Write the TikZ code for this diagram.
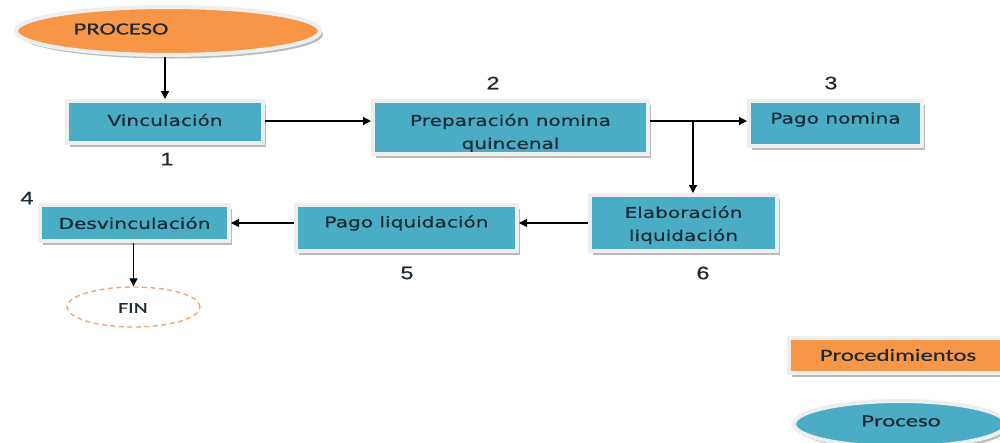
\documentclass[tikz,border=0pt]{standalone}
\usepackage{fontspec}
\usetikzlibrary{shapes.geometric,arrows.meta,shadows,calc}
\newfontfamily\boxfont[FakeStretch=1.34,FakeBold=0.4]{DejaVu Sans}
\newfontfamily\calfont[FakeStretch=1.45,FakeBold=0.5]{Carlito}
\newfontfamily\numfont[FakeStretch=1.3,FakeBold=0.6]{Liberation Sans}
\definecolor{boxblue}{HTML}{4BACC6}
\definecolor{procorange}{HTML}{F79646}
\definecolor{finorange}{HTML}{F8A86E}
\definecolor{framegray}{HTML}{EEEEEE}
\definecolor{txtdark}{HTML}{1B2A33}
\begin{document}
\begin{tikzpicture}[x=1pt,y=-1pt,
  shade/.style={drop shadow={shadow xshift=3pt,shadow yshift=-3.5pt,fill=black!45,opacity=0.6}},
  stepbox/.style={rectangle,fill=boxblue,draw=framegray,line width=4pt,inner sep=0pt,shade},
  boxtext/.style={font=\boxfont\fontsize{15}{23}\selectfont,text=txtdark,align=center,inner sep=0pt},
  caltext/.style={font=\calfont\fontsize{17}{20}\selectfont,text=txtdark,inner sep=0pt},
  numtext/.style={font=\numfont\fontsize{18}{20}\selectfont,text=txtdark,inner sep=0pt},
  arr/.style={-{Triangle[width=8pt,length=8pt]},line width=1.2pt,black}]
\useasboundingbox (0,0) rectangle (1000,442);
\clip (0,0) rectangle (1000,442);
% start ellipse
\node[ellipse,fill=procorange,draw=framegray,line width=4pt,inner sep=0pt,minimum width=304pt,minimum height=48pt,shade] (proc) at (168,31) {};
\node[caltext] (proct) at (121,29) {PROCESO};
% boxes
\node[stepbox,minimum width=196pt,minimum height=42pt,label={[boxtext,yshift=2pt]center:Vinculación}] (vinc) at (165,122) {};
\node[stepbox,minimum width=275pt,minimum height=53pt] (prep) at (510.5,127.5) {};
\node[boxtext,yshift=-5.5pt] (prept) at (prep.center) {Preparación nomina\\quincenal};
\draw[draw=framegray,line width=4pt] ($(prep.south west)+(2pt,2pt)$) -- ($(prep.south east)+(-2pt,2pt)$);
\node[stepbox,minimum width=173pt,minimum height=45pt,label={[boxtext,yshift=4pt]center:Pago nomina}] (pnom) at (835.5,123.5) {};
\node[stepbox,minimum width=189pt,minimum height=36pt,label={[boxtext]center:Desvinculación}] (desv) at (134.5,223) {};
\node[stepbox,minimum width=221pt,minimum height=46pt,label={[boxtext,yshift=5pt]center:Pago liquidación}] (pliq) at (406.5,228) {};
\node[stepbox,minimum width=187pt,minimum height=56pt] (elab) at (683.5,223) {};
\node[boxtext,yshift=-2pt] (elabt) at (elab.center) {Elaboración\\liquidación};
% end ellipse
\node[ellipse,draw=finorange,dash pattern=on 5pt off 3.5pt,line width=1.4pt,minimum width=133pt,minimum height=40pt,inner sep=0pt] (fin) at (133.5,307) {};
\node[caltext,font=\calfont\fontsize{15}{18}\selectfont] (fint) at (133,308) {FIN};
% numbers
\node[numtext] (n1) at (167,159) {1};
\node[numtext] (n2) at (493,83) {2};
\node[numtext] (n3) at (831,83) {3};
\node[numtext] (n4) at (27,198) {4};
\node[numtext] (n5) at (407,273) {5};
\node[numtext] (n6) at (703,273) {6};
% legend
\node[rectangle,fill=procorange,draw=framegray,line width=4pt,inner sep=0pt,minimum width=221pt,minimum height=35pt,shade] (legproc) at (899.5,355.5) {};
\node[caltext] (legproct) at (898,355) {Procedimientos};
\node[ellipse,fill=boxblue,draw=framegray,line width=4pt,inner sep=0pt,minimum width=212pt,minimum height=46pt,shade] (legp) at (900,424) {};
\node[caltext] (legpt) at (901,421) {Proceso};
% connectors
\coordinate (j) at (693,121);
\draw[arr] (proc.south -| vinc.north) -- (vinc.north);
\draw[arr] (vinc.east |- j) -- (j -| prep.west);
\draw[line width=1.2pt] (prep.east |- j) -- (j);
\draw[arr] (j) -- (j -| pnom.west);
\draw[arr] (j) -- (j |- elab.north);
\draw[arr] (elab.west) -- (elab.west -| pliq.east);
\draw[arr] (pliq.west |- desv.east) -- (desv.east);
\draw[arr] (desv.south -| fin.north) -- (fin.north);
\end{tikzpicture}
\end{document}
